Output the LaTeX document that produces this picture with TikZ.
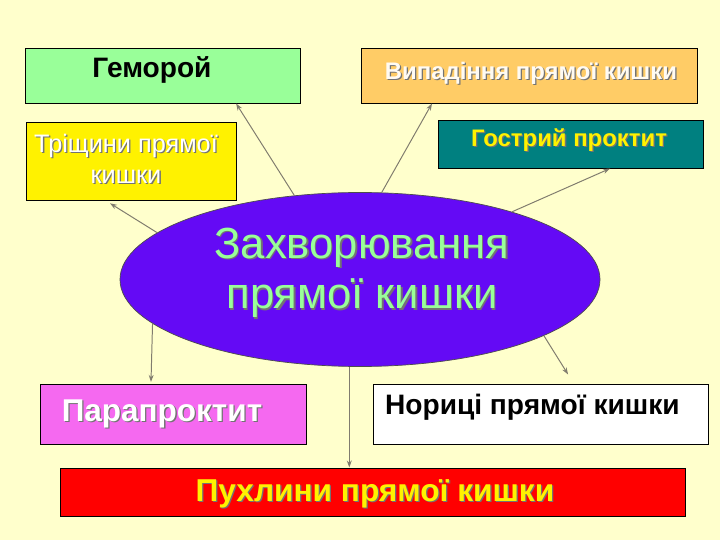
\documentclass[tikz,border=0pt]{standalone}
\usepackage{fontspec}
\setmainfont{Liberation Sans}
\usetikzlibrary{shapes.geometric,arrows.meta}

\definecolor{bgcream}{RGB}{255,255,204}
\definecolor{mint}{RGB}{153,255,153}
\definecolor{peach}{RGB}{255,204,102}
\definecolor{tealbox}{RGB}{0,128,128}
\definecolor{violet}{RGB}{100,10,245}
\definecolor{pinkbox}{RGB}{245,105,240}
\definecolor{arrowgray}{RGB}{128,124,110}

% text with a soft drop shadow: name, position, style, text
\newcommand{\shadowlabel}[4]{%
  \node[#3, text=black!55, xshift=0.9pt, yshift=-0.9pt] (#1s) at #2 {#4};
  \node[#3] (#1) at #2 {#4};}

\begin{document}
\begin{tikzpicture}[
box/.style={rectangle, draw=black, line width=0.7pt, inner sep=0pt},
lab/.style={align=center, inner sep=0pt},
arr/.style={draw=arrowgray, line width=0.7pt, -{Stealth[length=5pt,width=3.5pt]}}
]
        \useasboundingbox (0,0) rectangle (18,13.5);
        \fill[bgcream] (0,0) rectangle (18,13.5);

        % boxes
        \node [box, fill=mint, minimum width=6.875cm, minimum height=1.375cm] (gem) at (4.0625, 11.6125) {};
        \node [box, fill=peach, minimum width=8.4cm, minimum height=1.375cm] (vyp) at (13.225, 11.6125) {};
        \node [box, fill=yellow, minimum width=5.25cm, minimum height=1.95cm] (tri) at (3.275, 9.475) {};
        \node [box, fill=tealbox, minimum width=6.625cm, minimum height=1.2cm] (gos) at (14.2625, 9.9) {};
        \node [ellipse, draw=black!70, line width=0.5pt, fill=violet, inner sep=0pt,
               minimum width=12cm, minimum height=4.35cm] (dis) at (9, 6.5125) {};
        \node [box, fill=pinkbox, minimum width=6.65cm, minimum height=1.5cm] (par) at (4.325, 3.15) {};
        \node [box, fill=white, minimum width=8.375cm, minimum height=1.5cm] (nor) at (13.5125, 3.15) {};
        \node [box, fill=red, minimum width=15.625cm, minimum height=1.2cm] (pux) at (9.3125, 1.2) {};

        % texts
        \node [lab, font=\fontsize{20}{24}\selectfont\bfseries] (gemlab) at (3.8, 11.75) {Геморой};
        \shadowlabel{vyplab}{(13.275, 11.675)}{lab, text=white!92!peach, font=\fontsize{17}{20}\selectfont\bfseries}{Випадіння прямої кишки}
        \shadowlabel{trilab}{(3.15, 9.525)}{lab, text=white, font=\fontsize{18}{22}\selectfont}{Тріщини прямої\\кишки}
        \shadowlabel{goslab}{(14.225, 10.0)}{lab, text=yellow, font=\fontsize{17}{20}\selectfont\bfseries}{Гострий проктит}
        \shadowlabel{dislab}{(9.05, 6.675)}{lab, text=mint, font=\fontsize{31}{36}\selectfont}{Захворювання\\прямої кишки}
        \shadowlabel{parlab}{(4.05, 3.15)}{lab, text=white, font=\fontsize{22.4}{26}\selectfont\bfseries}{Парапроктит}
        \node [lab, font=\fontsize{20}{24}\selectfont\bfseries] (norlab) at (13.31, 3.325) {Нориці прямої кишки};
        \shadowlabel{puxlab}{(9.375, 1.15)}{lab, text=yellow, font=\fontsize{22.5}{26}\selectfont\bfseries}{Пухлини прямої кишки}

        % arrows
        \draw [arr] (dis.128) -- ([xshift=1.84cm]gem.south);
        \draw [arr] (dis.76) -- ([xshift=-2.425cm]vyp.south);
        \draw [arr] (dis.167) -- ([xshift=-0.525cm, yshift=-0.07cm]tri.south);
        \draw [arr] (dis.24) -- ([xshift=0.99cm]gos.south);
        \draw [arr] (dis.192) -- ([xshift=-0.55cm, yshift=0.04cm]par.north);
        \draw [arr] (dis.263) -- (dis.263 |- pux.north);
        \draw [arr] (dis.-17) -- ([xshift=0.69cm, yshift=0.225cm]nor.north);

 \end{tikzpicture}
\end{document}
